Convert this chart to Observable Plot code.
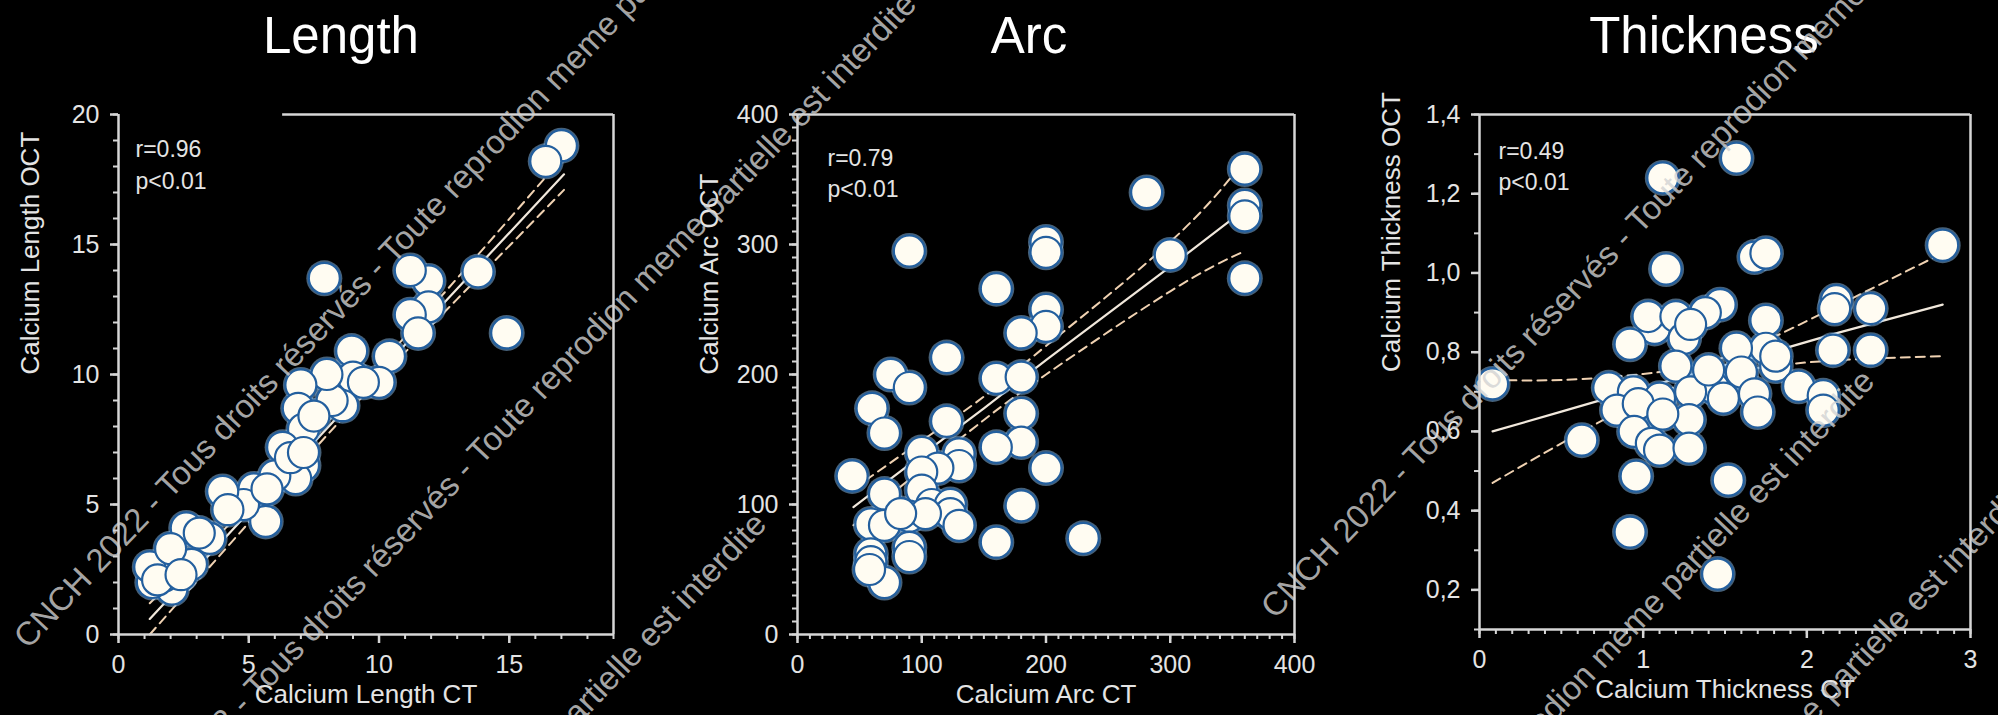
<!DOCTYPE html>
<html>
<head>
<meta charset="utf-8">
<script src="https://cdn.jsdelivr.net/npm/d3@7"></script>
<script src="https://cdn.jsdelivr.net/npm/@observablehq/plot@0.6"></script>
<style>
  html, body { margin: 0; padding: 0; background: #000; }
  #root { position: relative; width: 1998px; height: 715px; overflow: hidden; background: #000;
          font-family: "Liberation Sans", Arial, sans-serif; }
  .title { position: absolute; top: 10px; color: #fff; font-size: 51px; line-height: 1;
           transform: translateX(-50%); white-space: nowrap; }
  .panel { position: absolute; top: 90px; }
  #wm { position: absolute; left: 0; top: 0; pointer-events: none; }
</style>
</head>
<body>
<div id="root"></div>
<script>
// ---------- data ----------
const titles = ["Length", "Arc", "Thickness"];
const xLabels = ["Calcium Length CT", "Calcium Arc CT", "Calcium Thickness CT"];
const yLabels = ["Calcium Length OCT", "Calcium Arc OCT", "Calcium Thickness OCT"];
const stats = [["r=0.96", "p<0.01"], ["r=0.79", "p<0.01"], ["r=0.49", "p<0.01"]];

// Length panel
const lengthCT  = [17.0, 16.4, 7.9, 13.8, 14.9, 11.9, 11.2, 11.9, 11.2, 11.5, 10.4, 10.0, 8.95, 9.0, 8.6, 8.2, 8.0, 7.0, 6.9, 7.1, 7.1, 6.8, 6.3, 6.0, 5.65, 5.2, 4.8, 4.0, 3.5, 2.6, 2.8, 2.05, 1.75, 1.3, 1.2, 2.0, 4.2, 6.6, 5.7, 7.1, 9.4, 7.5, 3.1, 1.5, 2.4];
const lengthOCT = [18.8, 18.2, 13.7, 13.95, 11.6, 13.6, 14.0, 12.6, 12.3, 11.6, 10.7, 9.7, 10.9, 9.9, 8.8, 9.0, 10.0, 9.6, 8.7, 7.9, 6.5, 6.0, 7.2, 6.1, 4.35, 5.6, 5.0, 5.5, 3.7, 4.1, 2.7, 1.75, 2.25, 2.0, 2.6, 3.3, 4.8, 6.8, 5.6, 7.0, 9.7, 8.4, 3.9, 2.1, 2.3];
const lengthFitX  = [1.2, 5, 9, 13, 17.1];
const lengthFit   = [0.6, 4.7, 9.0, 13.3, 17.7];
const lengthUpper = [1.2, 5.0, 9.25, 13.7, 18.4];
const lengthLower = [0.0, 4.3, 8.75, 12.9, 17.1];
const lengthXTicks = [0, 5, 10, 15];
const lengthYTicks = [0, 5, 10, 15, 20];

// Arc panel
const arcCT  = [360, 360, 360, 360, 300, 281, 90, 200, 200, 160, 200, 200, 180, 120, 75, 90, 160, 180, 60, 120, 180, 180, 70, 160, 100, 130, 130, 113, 200, 44, 100, 70, 100, 108, 123, 123, 180, 90, 103, 59, 70, 130, 160, 230, 90, 90, 59, 59, 70, 58, 83];
const arcOCT = [358, 330, 322, 274, 292, 340, 295, 302, 294, 266, 250, 237, 232, 213, 200, 190, 197, 198, 174, 164, 170, 148, 155, 144, 140, 139, 130, 128, 128, 122, 125, 108, 111, 100, 100, 93, 99, 91, 93, 85, 84, 84, 71, 74, 67, 60, 62, 56, 40, 50, 93];
const arcFitX  = [45, 100, 150, 200, 300, 360];
const arcFit   = [98, 138, 174, 211, 283, 327];
const arcUpper = [112, 149, 183, 222, 302, 365];
const arcLower = [84, 127, 165, 200, 264, 295];
const arcXTicks = [0, 100, 200, 300, 400];
const arcYTicks = [0, 100, 200, 300, 400];

// Thickness panel
const thickCT  = [2.83, 0.08, 1.12, 1.57, 1.14, 1.68, 1.75, 1.47, 1.38, 2.18, 2.17, 2.39, 1.75, 1.07, 1.03, 1.20, 0.92, 1.25, 1.29, 2.16, 2.39, 1.75, 1.57, 1.81, 1.20, 1.60, 1.43, 0.79, 1.29, 1.95, 1.68, 1.49, 0.94, 1.10, 2.10, 2.10, 0.84, 0.97, 1.70, 1.28, 1.12, 0.945, 1.05, 1.10, 1.28, 0.625, 0.957, 1.52, 0.92, 1.455, 1.40, 1.81];
const thickOCT = [1.07, 0.72, 1.24, 1.29, 1.01, 1.04, 1.05, 0.92, 0.90, 0.93, 0.91, 0.91, 0.88, 0.86, 0.89, 0.89, 0.82, 0.835, 0.87, 0.805, 0.805, 0.81, 0.81, 0.765, 0.765, 0.75, 0.71, 0.71, 0.70, 0.714, 0.695, 0.684, 0.70, 0.684, 0.69, 0.654, 0.654, 0.67, 0.649, 0.63, 0.644, 0.60, 0.57, 0.553, 0.558, 0.578, 0.487, 0.477, 0.346, 0.24, 0.755, 0.79];
const thickFitX  = [0.08, 0.5, 1.0, 1.35, 1.7, 2.2, 2.83];
const thickFit   = [0.60, 0.65, 0.71, 0.75, 0.79, 0.85, 0.92];
const thickUpper = [0.73, 0.73, 0.745, 0.77, 0.82, 0.92, 1.05];
const thickLower = [0.47, 0.57, 0.68, 0.73, 0.76, 0.78, 0.79];
const thickXTicks = [0, 1, 2, 3];
const thickYTicks = [0.2, 0.4, 0.6, 0.8, 1.0, 1.2, 1.4];

// ---------- drawing ----------
const FONT = '"Liberation Sans", Arial, Helvetica, sans-serif';
const AXIS = "#d6d6d6";
const TEXT = "#e4e4e4";
const SOLID = "#f1e8dc";
const DASH = "#f0d2b2";
const root = document.getElementById("root");

function makePanel(c) {
  const pts = c.ct.map((x, i) => ({x, y: c.oct[i]}));
  const fitRows = c.fitX.map((x, i) => ({x, fit: c.fit[i], up: c.upper[i], lo: c.lower[i]}));
  return Plot.plot({
    width: c.width, height: 625,
    marginTop: 24, marginBottom: c.marginBottom, marginLeft: c.marginLeft, marginRight: c.marginRight,
    style: {background: "transparent", color: AXIS, fontFamily: FONT, overflow: "visible"},
    x: {domain: c.xDomain, label: null},
    y: {domain: c.yDomain, label: null},
    marks: [
      Plot.line(fitRows, {x: "x", y: "lo", stroke: DASH, strokeWidth: 2, strokeDasharray: "9,6", curve: "natural"}),
      Plot.line(fitRows, {x: "x", y: "up", stroke: DASH, strokeWidth: 2, strokeDasharray: "9,6", curve: "natural"}),
      Plot.line(fitRows, {x: "x", y: "fit", stroke: SOLID, strokeWidth: 2.2}),
      Plot.dot(pts, {x: "x", y: "y", r: 18, fill: "#8cc0f0", fillOpacity: 0.5}),
      Plot.dot(pts, {x: "x", y: "y", r: 15.5, fill: "#fffcf2", stroke: "#235f9e", strokeWidth: 2.2}),
      Plot.axisY(c.yMinor, {tickSize: 5, tickFormat: () => "", strokeWidth: 2, label: null}),
      Plot.axisY(c.yTicks, {tickSize: 8, tickPadding: 11, tickFormat: c.yFormat, fontSize: 25, fill: TEXT, strokeWidth: 2.5, label: null}),
      Plot.axisX(c.xMinor, {tickSize: 5, tickFormat: () => "", strokeWidth: 2, label: null}),
      Plot.axisX(c.xTicks, {tickSize: 9, tickPadding: 12, tickFormat: c.xFormat, fontSize: 25, fill: TEXT, strokeWidth: 2.5, label: null}),
      Plot.ruleX([c.xDomain[0]], {stroke: AXIS, strokeWidth: 2.5}),
      Plot.ruleX([c.xDomain[1]], {stroke: AXIS, strokeWidth: 2.5}),
      Plot.ruleY([c.yDomain[0]], {stroke: AXIS, strokeWidth: 2.5}),
      Plot.ruleY([c.yDomain[1]], {x1: c.topStart, x2: c.xDomain[1], stroke: AXIS, strokeWidth: 2.5}),
      Plot.text([c.stats[0]], {text: d => d, frameAnchor: "top-left", dx: c.statDx, dy: c.statDy[0], textAnchor: "start", fontSize: 23, fill: TEXT}),
      Plot.text([c.stats[1]], {text: d => d, frameAnchor: "top-left", dx: c.statDx, dy: c.statDy[1], textAnchor: "start", fontSize: 23, fill: TEXT}),
      Plot.text([c.xLabel], {text: d => d, frameAnchor: "bottom", dy: 68, lineAnchor: "bottom", fontSize: 26, fill: TEXT}),
      Plot.text([c.yLabel], {text: d => d, frameAnchor: "left", dx: -88, rotate: -90, fontSize: 26, fill: TEXT})
    ]
  });
}

const panels = [
  {left: 0, width: 680, marginLeft: 118, marginRight: 67, marginBottom: 81,
   ct: lengthCT, oct: lengthOCT, fitX: lengthFitX, fit: lengthFit, upper: lengthUpper, lower: lengthLower,
   xDomain: [0, 19], yDomain: [0, 20], xTicks: lengthXTicks, yTicks: lengthYTicks,
   xMinor: d3.range(0, 20), yMinor: d3.range(0, 21),
   xFormat: d => String(d), yFormat: d => String(d), topStart: 6.3,
   statDx: 17, statDy: [26, 58], titleX: 341},
  {left: 680, width: 680, marginLeft: 117, marginRight: 66, marginBottom: 81,
   ct: arcCT, oct: arcOCT, fitX: arcFitX, fit: arcFit, upper: arcUpper, lower: arcLower,
   xDomain: [0, 400], yDomain: [0, 400], xTicks: arcXTicks, yTicks: arcYTicks,
   xMinor: d3.range(0, 401, 10), yMinor: d3.range(0, 401, 10),
   xFormat: d => String(d), yFormat: d => String(d), topStart: 0,
   statDx: 30, statDy: [35, 66], titleX: 1029},
  {left: 1360, width: 638, marginLeft: 119, marginRight: 28, marginBottom: 86,
   ct: thickCT, oct: thickOCT, fitX: thickFitX, fit: thickFit, upper: thickUpper, lower: thickLower,
   xDomain: [0, 3], yDomain: [0.1, 1.4], xTicks: thickXTicks, yTicks: thickYTicks,
   xMinor: d3.range(0, 31).map(i => i / 10), yMinor: d3.range(1, 15).map(i => i / 10),
   xFormat: d => String(d), yFormat: d => d.toFixed(1).replace(".", ","), topStart: 0,
   statDx: 19, statDy: [28, 59], titleX: 1704}
];

panels.forEach((p, i) => {
  p.xLabel = xLabels[i]; p.yLabel = yLabels[i]; p.stats = stats[i];
  const holder = document.createElement("div");
  holder.className = "panel";
  holder.style.left = p.left + "px";
  holder.appendChild(makePanel(p));
  root.appendChild(holder);
  const t = document.createElement("div");
  t.className = "title";
  t.style.left = p.titleX + "px";
  t.textContent = titles[i];
  root.appendChild(t);
});

// ---------- watermark overlay ----------
const wmText = "CNCH 2022 - Tous droits réservés - Toute reprodion meme partielle est interdite";
const wmStarts = [[28, 650], [116, 851], [-34, 1371], [1275, 620], [1074, 1228], [1233, 1335]];
const svg = d3.select(root).append("svg").attr("id", "wm").attr("width", 1998).attr("height", 715);
svg.selectAll("text").data(wmStarts).join("text")
  .attr("transform", d => `translate(${d[0]},${d[1]}) rotate(-46.5)`)
  .attr("font-family", FONT).attr("font-size", 33)
  .attr("fill", "#d2d2d2").attr("fill-opacity", 0.8)
  .text(wmText);
</script>
</body>
</html>
